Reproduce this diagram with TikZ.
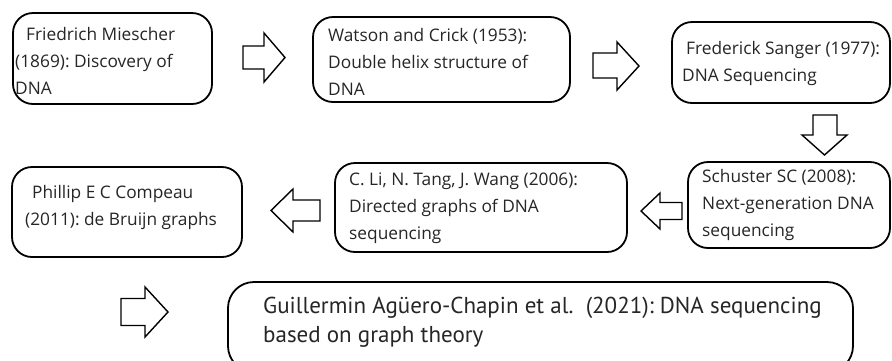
\documentclass[tikz,border=0pt]{standalone}
\usepackage{fontspec}
\setmainfont{Open Sans}
\newfontfamily\bigfont{PT Sans}
\frenchspacing
\begin{document}
\begin{tikzpicture}[x=1pt,y=-1pt,
  box/.style={draw=black, line width=1.8pt, rounded corners=20pt, fill=white},
  txt/.style={anchor=west, align=left, inner sep=0pt, text=black!85,
    font=\fontsize{17.3}{27}\selectfont},
  bigtxt/.style={anchor=west, align=left, inner sep=0pt, text=black!85,
    font=\bigfont\fontsize{23}{28.5}\selectfont},
  blk/.style={draw=black, line width=1.4pt, fill=white, line join=miter}]
\useasboundingbox (0,0) rectangle (892,360);
\clip (0,0) rectangle (892,360);
\fill[white] (0,0) rectangle (892,360);

% boxes
\node[box, minimum width=199pt, minimum height=91pt] (b1) at (112.5,58.5) {};
\node[box, minimum width=257pt, minimum height=85pt] (b2) at (441.5,59.5) {};
\node[box, minimum width=218pt, minimum height=81pt] (b3) at (781,62.5) {};
\node[box, minimum width=202pt, minimum height=86pt] (b4) at (789,205) {};
\node[box, minimum width=292pt, minimum height=89pt] (b5) at (481,207.5) {};
\node[box, minimum width=230pt, minimum height=90pt] (b6) at (127,212) {};
\node[box, minimum width=625pt, minimum height=90pt, rounded corners=26pt] (b7) at (540.5,327) {};

% texts
\node[txt] (t1) at (15,61) {\hspace{11pt}Friedrich Miescher\\(1869): Discovery of\\DNA};
\node[txt] (t2) at (328,62) {Watson and Crick (1953):\\Double helix structure of\\DNA};
\node[txt] (t3) at (682,63.5) {\hspace{4pt}Frederick Sanger (1977):\\DNA Sequencing};
\node[txt] (t4) at (702,205) {Schuster SC (2008):\\Next-generation DNA\\sequencing};
\node[txt] (t5) at (349,208) {C. Li, N. Tang, J. Wang (2006):\\Directed graphs of DNA\\sequencing};
\node[txt] (t6) at (25,207.5) {\hspace{7pt}Phillip E C Compeau\\(2011): de Bruijn graphs};
\node[bigtxt] (t7) at (263,322) {Guillermin Agüero-Chapin et al.\ \ (2021): DNA sequencing\\based on graph theory};

% block arrows
\draw[blk] (243,46)--(264,46)--(264,33)--(285,57.5)--(264,82)--(264,69)--(243,69)--cycle;
\draw[blk] (593,53)--(617,53)--(617,42)--(639,66)--(617,90)--(617,78)--(593,78)--cycle;
\draw[blk] (813,115)--(837,115)--(837,135)--(847,135)--(824.5,155)--(802,135)--(813,135)--cycle;
\draw[blk] (682,202.5)--(660,202.5)--(660,193)--(641,211)--(660,229)--(660,219.5)--(682,219.5)--cycle;
\draw[blk] (320,200)--(293,200)--(293,189)--(271,210.5)--(293,232)--(293,221)--(320,221)--cycle;
\draw[blk] (121,298.5)--(145,298.5)--(145,287)--(168,312)--(145,337)--(145,325.5)--(121,325.5)--cycle;
\end{tikzpicture}
\end{document}
